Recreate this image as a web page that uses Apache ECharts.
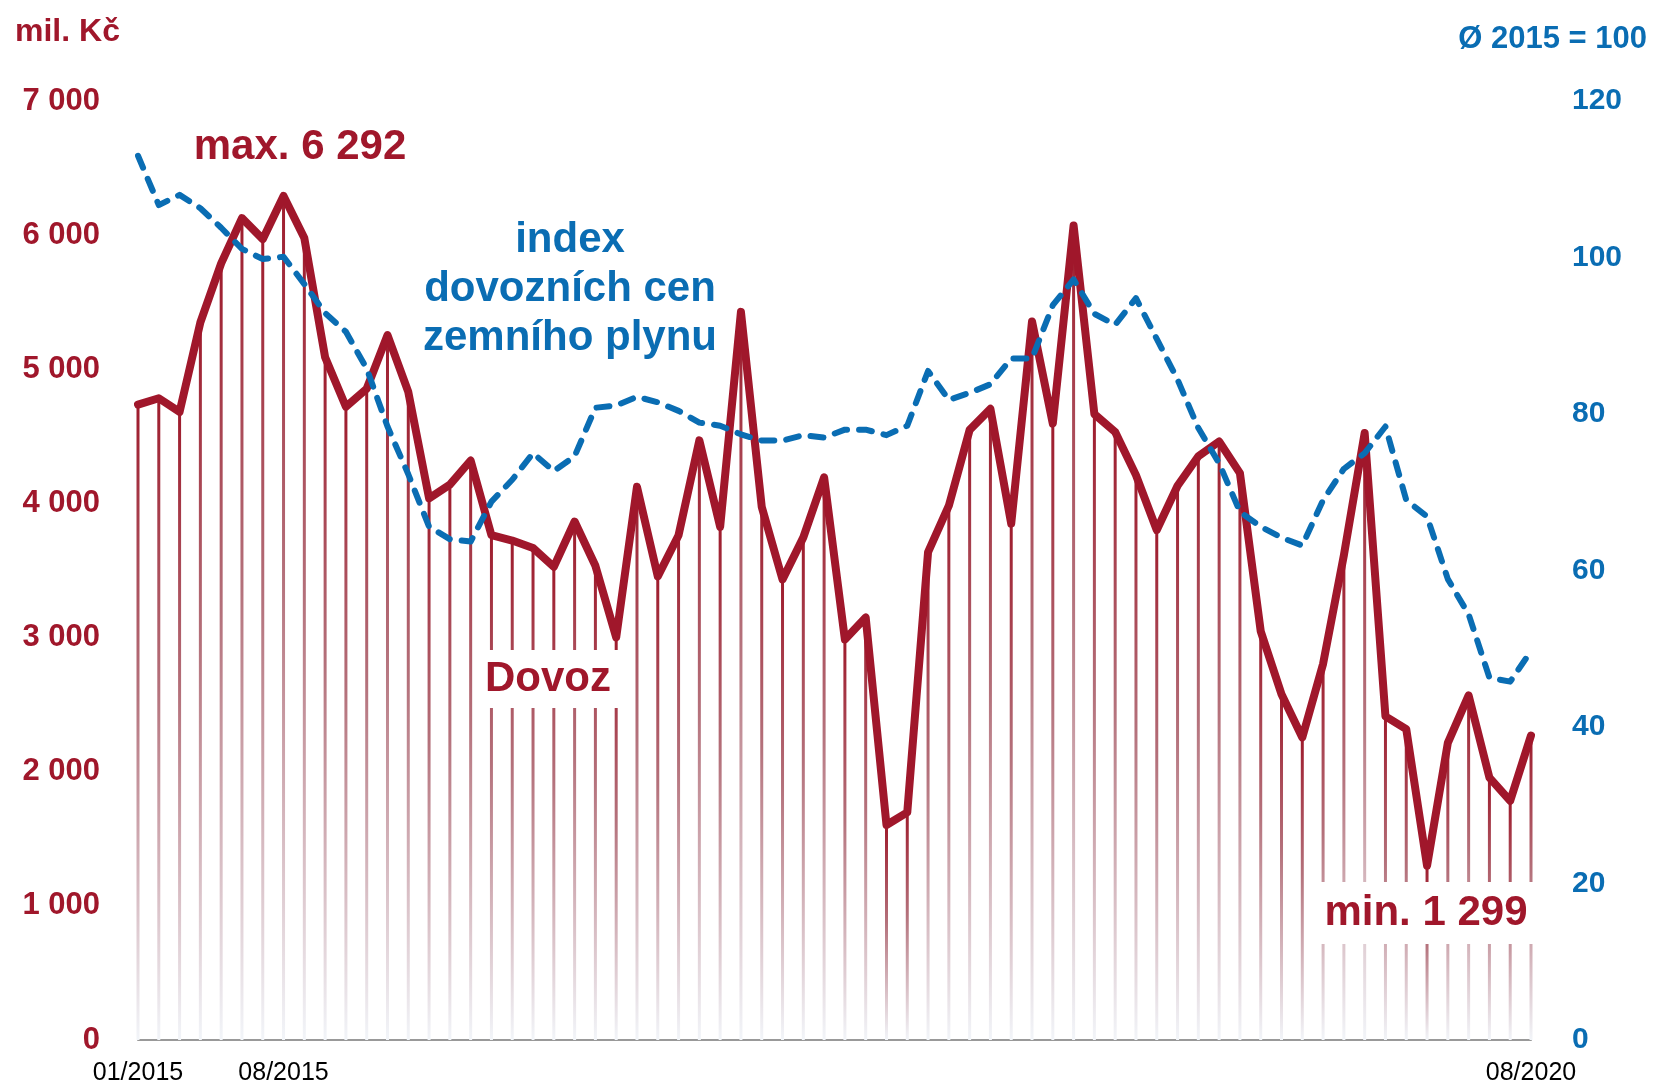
<!DOCTYPE html>
<html>
<head>
<meta charset="utf-8">
<script src="https://cdn.jsdelivr.net/npm/echarts@6/dist/echarts.min.js"></script>
<style>
  html, body { margin: 0; padding: 0; background: #fff; }
  #chart { width: 1654px; height: 1086px; }
</style>
</head>
<body>
<div id="chart"></div>
<script>
  // měsíce 01/2015 - 08/2020
  const months = [
    '01/2015','02/2015','03/2015','04/2015','05/2015','06/2015','07/2015','08/2015','09/2015','10/2015','11/2015','12/2015',
    '01/2016','02/2016','03/2016','04/2016','05/2016','06/2016','07/2016','08/2016','09/2016','10/2016','11/2016','12/2016',
    '01/2017','02/2017','03/2017','04/2017','05/2017','06/2017','07/2017','08/2017','09/2017','10/2017','11/2017','12/2017',
    '01/2018','02/2018','03/2018','04/2018','05/2018','06/2018','07/2018','08/2018','09/2018','10/2018','11/2018','12/2018',
    '01/2019','02/2019','03/2019','04/2019','05/2019','06/2019','07/2019','08/2019','09/2019','10/2019','11/2019','12/2019',
    '01/2020','02/2020','03/2020','04/2020','05/2020','06/2020','07/2020','08/2020'
  ];
  const shownLabels = ['01/2015', '08/2015', '08/2020'];

  // dovoz zemního plynu, mil. Kč
  const dovoz = [
    4737, 4784, 4682, 5350, 5790, 6127, 5970, 6292, 5978, 5090, 4721, 4855,
    5255, 4831, 4038, 4140, 4320, 3763, 3723, 3668, 3527, 3865, 3535, 3001,
    4124, 3456, 3763, 4470, 3826, 5428, 3975, 3433, 3747, 4195, 2985, 3150,
    1603, 1697, 3637, 3983, 4548, 4705, 3849, 5357, 4595, 6072, 4666, 4533,
    4211, 3802, 4132, 4352, 4462, 4226, 3048, 2577, 2255, 2804, 3613, 4525,
    2412, 2317, 1299, 2215, 2569, 1956, 1783, 2270
  ];

  // index dovozních cen zemního plynu, průměr 2015 = 100
  const indexCen = [
    113.0, 106.7, 108.0, 106.3, 103.8, 101.1, 99.8, 100.1, 96.6, 92.9, 90.5, 85.8,
    78.4, 72.3, 65.6, 64.0, 63.7, 68.8, 71.6, 75.0, 72.7, 74.6, 80.8, 81.1,
    82.2, 81.5, 80.4, 78.9, 78.5, 77.4, 76.6, 76.6, 77.3, 77.0, 78.0, 78.0,
    77.3, 78.5, 85.5, 81.8, 82.7, 83.8, 87.1, 87.1, 93.9, 97.2, 92.8, 91.4,
    94.8, 89.6, 84.4, 78.2, 73.7, 67.5, 65.6, 64.2, 63.2, 69.0, 73.0, 75.0,
    78.4, 69.0, 66.9, 58.9, 54.4, 46.3, 45.8, 49.7
  ];

  const RED = '#A0172B';
  const BLUE = '#0A6DB3';
  const FONT = "'Liberation Sans', Arial, sans-serif";

  function thousands(v) {
    return String(v).replace(/\B(?=(\d{3})+(?!\d))/g, ' ');
  }

  const chart = echarts.init(document.getElementById('chart'));
  chart.setOption({
    animation: false,
    backgroundColor: '#fff',
    grid: { left: 138, right: 123, top: 101, bottom: 45 },
    xAxis: {
      type: 'category',
      data: months,
      boundaryGap: false,
      axisLine: { lineStyle: { color: '#999', width: 2 } },
      axisTick: { show: false },
      axisLabel: {
        interval: function (i, v) { return shownLabels.indexOf(v) >= 0; },
        color: '#000',
        fontFamily: FONT,
        fontSize: 25,
        margin: 21
      }
    },
    yAxis: [
      {
        type: 'value', min: 0, max: 7000, interval: 1000,
        splitLine: { show: false },
        axisLine: { show: false },
        axisTick: { show: false },
        axisLabel: {
          color: RED, fontFamily: FONT, fontWeight: 'bold', fontSize: 31, margin: 38,
          formatter: thousands
        }
      },
      {
        type: 'value', min: 0, max: 120, interval: 20,
        splitLine: { show: false },
        axisLine: { show: false },
        axisTick: { show: false },
        axisLabel: {
          color: BLUE, fontFamily: FONT, fontWeight: 'bold', fontSize: 30, margin: 41
        }
      }
    ],
    series: [
      {
        name: 'sloupky',
        type: 'bar',
        data: dovoz,
        barWidth: 3,
        clip: false,
        silent: true,
        z: 1,
        itemStyle: {
          color: new echarts.graphic.LinearGradient(0, 0, 0, 1, [
            { offset: 0, color: '#9E1B2C' },
            { offset: 0.45, color: '#B4717B' },
            { offset: 1, color: '#F2F5F9' }
          ])
        }
      },
      {
        name: 'Dovoz',
        type: 'line',
        data: dovoz,
        symbol: 'none',
        clip: false,
        z: 3,
        lineStyle: { color: RED, width: 8, join: 'round', cap: 'round' }
      },
      {
        name: 'index',
        type: 'line',
        yAxisIndex: 1,
        data: indexCen,
        symbol: 'none',
        clip: false,
        z: 4,
        lineStyle: { color: BLUE, width: 6, type: [13, 12], cap: 'round', join: 'round' }
      }
    ],
    graphic: [
      {
        type: 'text', left: 15, top: 16, z: 100,
        style: { text: 'mil. Kč', fill: RED, font: 'bold 32px ' + FONT }
      },
      {
        type: 'text', right: 7, top: 24, z: 100,
        style: { text: 'Ø 2015 = 100', fill: BLUE, font: 'bold 31px ' + FONT }
      },
      {
        type: 'text', x: 300, y: 147, z: 100,
        style: { text: 'max. 6 292', fill: RED, font: 'bold 42px ' + FONT, align: 'center', verticalAlign: 'middle' }
      },
      {
        type: 'text', x: 570, y: 289, z: 100,
        style: {
          text: 'index\ndovozních cen\nzemního plynu', fill: BLUE, font: 'bold 42px ' + FONT,
          align: 'center', verticalAlign: 'middle', lineHeight: 49
        }
      },
      {
        type: 'text', x: 548, y: 679, z: 100,
        style: {
          text: 'Dovoz', fill: RED, font: 'bold 42px ' + FONT, align: 'center', verticalAlign: 'middle',
          backgroundColor: '#fff', padding: [8, 8, 8, 8]
        }
      },
      {
        type: 'text', x: 1426, y: 913, z: 100,
        style: {
          text: 'min. 1 299', fill: RED, font: 'bold 42px ' + FONT, align: 'center', verticalAlign: 'middle',
          backgroundColor: '#fff', padding: [10, 6, 10, 6]
        }
      }
    ]
  });
</script>
</body>
</html>
